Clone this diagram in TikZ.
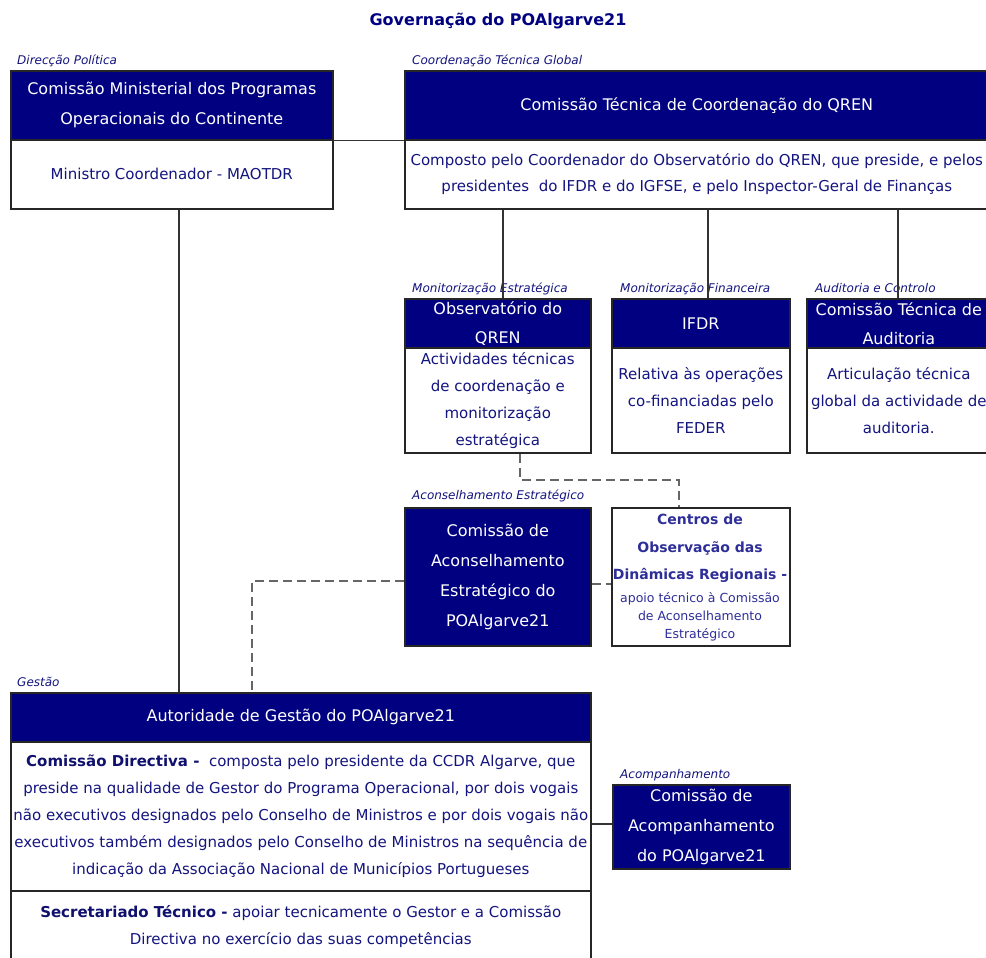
\documentclass[tikz,border=0pt]{standalone}
\usepackage{fontspec}
\setmainfont{DejaVu Sans}
\usetikzlibrary{calc}
\definecolor{navy}{HTML}{000080}
\definecolor{txt}{HTML}{14147F}
\definecolor{boldtxt}{HTML}{10106E}
\definecolor{centxt}{HTML}{2E2E99}
\definecolor{bord}{HTML}{262626}
\definecolor{dsh}{HTML}{666666}
\tikzset{
  hdr/.style={draw=bord, line width=1.6pt, fill=navy, text=white, anchor=north west, inner sep=0pt, align=center, font=\fontsize{16}{30}\selectfont},
  bdy/.style={draw=bord, line width=1.6pt, fill=white, text=txt, anchor=north west, inner sep=0pt, align=center, font=\fontsize{15}{27}\selectfont},
  lbl/.style={anchor=base west, inner sep=0pt, text=txt, font=\fontsize{12}{14}\selectfont\itshape},
  link/.style={draw=black!80, line width=1.6pt},
  dlink/.style={draw=dsh, line width=2pt, dash pattern=on 9pt off 5pt},
}
\begin{document}
\begin{tikzpicture}[x=1pt,y=-1pt]
\useasboundingbox (0,0) rectangle (986,958);
\clip (0,0) rectangle (986,958);
\fill[white] (0,0) rectangle (986,958);

\node[font=\fontsize{16}{19}\selectfont\bfseries, text=navy] (title) at (498,21) {Governação do POAlgarve21};

% labels
\node[lbl] (l1) at (17,65) {Direcção Política};
\node[lbl] (l2) at (412,65) {Coordenação Técnica Global};
\node[lbl] (l3) at (412,292) {Monitorização Estratégica};
\node[lbl] (l4) at (620,292) {Monitorização Financeira};
\node[lbl] (l5) at (815,292) {Auditoria e Controlo};
\node[lbl] (l6) at (412,499) {Aconselhamento Estratégico};
\node[lbl] (l7) at (17,686) {Gestão};
\node[lbl] (l8) at (620,778) {Acompanhamento};

% Direcção política
\node[hdr, minimum width=322pt, minimum height=69pt] (cmh) at (10,70) {Comissão Ministerial dos Programas\\Operacionais do Continente};
\node[bdy, minimum width=322pt, minimum height=69pt] (cmb) at (10,139) {Ministro Coordenador - MAOTDR};

% QREN
\node[hdr, minimum width=584pt, minimum height=69pt] (qh) at (404,70) {Comissão Técnica de Coordenação do QREN};
\node[bdy, minimum width=584pt, minimum height=69pt, font=\fontsize{15}{26}\selectfont] (qb) at (404,139) {Composto pelo Coordenador do Observatório do QREN, que preside, e pelos\\presidentes\ \ do IFDR e do IGFSE, e pelo Inspector-Geral de Finanças};

% Sub boxes
\node[hdr, minimum width=186pt, minimum height=49pt, font=\fontsize{16}{29}\selectfont] (obh) at (404,298) {Observatório do\\QREN};
\node[bdy, minimum width=186pt, minimum height=105pt] (obb) at (404,347) {Actividades técnicas\\de coordenação e\\monitorização\\estratégica};

\node[hdr, minimum width=178pt, minimum height=49pt] (ifh) at (611,298) {IFDR};
\node[bdy, minimum width=178pt, minimum height=105pt] (ifb) at (611,347) {Relativa às operações\\co-financiadas pelo\\FEDER};

\node[hdr, minimum width=184pt, minimum height=49pt, font=\fontsize{16}{29}\selectfont] (auh) at (806,298) {Comissão Técnica de\\Auditoria};
\node[bdy, minimum width=184pt, minimum height=105pt] (aub) at (806,347) {Articulação técnica\\global da actividade de\\auditoria.};

% Aconselhamento
\node[hdr, minimum width=186pt, minimum height=138pt] (cae) at (404,507) {Comissão de\\Aconselhamento\\Estratégico do\\POAlgarve21};
\node[bdy, minimum width=178pt, minimum height=138pt] (cen) at (611,507) {};
\node[inner sep=0pt, align=center, text=centxt, font=\fontsize{14}{27.5}\selectfont\bfseries] (cenA) at (700,548.5) {Centros de\\Observação das\\Dinâmicas Regionais -};
\node[inner sep=0pt, align=center, text=centxt, font=\fontsize{12.5}{18}\selectfont] (cenB) at (700,617) {apoio técnico à Comissão\\de Aconselhamento\\Estratégico};

% Gestão
\node[hdr, minimum width=580pt, minimum height=49pt] (ah) at (10,692) {Autoridade de Gestão do POAlgarve21};
\node[bdy, minimum width=580pt, minimum height=149pt] (ab1) at (10,741) {\textcolor{boldtxt}{\bfseries Comissão Directiva -}\ \ composta pelo presidente da CCDR Algarve, que\\preside na qualidade de Gestor do Programa Operacional, por dois vogais\\não executivos designados pelo Conselho de Ministros e por dois vogais não\\executivos também designados pelo Conselho de Ministros na sequência de\\indicação da Associação Nacional de Municípios Portugueses};
\node[bdy, minimum width=580pt, minimum height=72pt] (ab2) at (10,890) {\textcolor{boldtxt}{\bfseries Secretariado Técnico -} apoiar tecnicamente o Gestor e a Comissão\\Directiva no exercício das suas competências};

% Acompanhamento
\node[hdr, minimum width=177pt, minimum height=84pt] (acp) at (612,784) {Comissão de\\Acompanhamento\\do POAlgarve21};

% connectors
\coordinate (acpin) at ([yshift=3pt]acp.west);
\draw[link] (cmh.south east) -- (qh.south west);
\draw[link] ([xshift=7pt]cmb.south) -- ([xshift=7pt]cmb.south |- ah.north);
\draw[link] ([xshift=5pt]obh.north) -- ([xshift=5pt]obh.north |- qb.south);
\draw[link] ([xshift=7pt]ifh.north) -- ([xshift=7pt]ifh.north |- qb.south);
\draw[link] ([xshift=-1pt]auh.north) -- ([xshift=-1pt]auh.north |- qb.south);
\draw[link] (ab1.east |- acpin) -- (acpin);

\draw[dlink] ([xshift=22pt]obb.south) -- ++(0,26) -| ([xshift=-22pt]cen.north);
\draw[dlink] ([yshift=-7pt]cae.east) -- ([yshift=-7pt]cen.west);
\draw[dlink] ([yshift=-4pt]cae.west) -| ([xshift=-49pt]ah.north);
\end{tikzpicture}
\end{document}
